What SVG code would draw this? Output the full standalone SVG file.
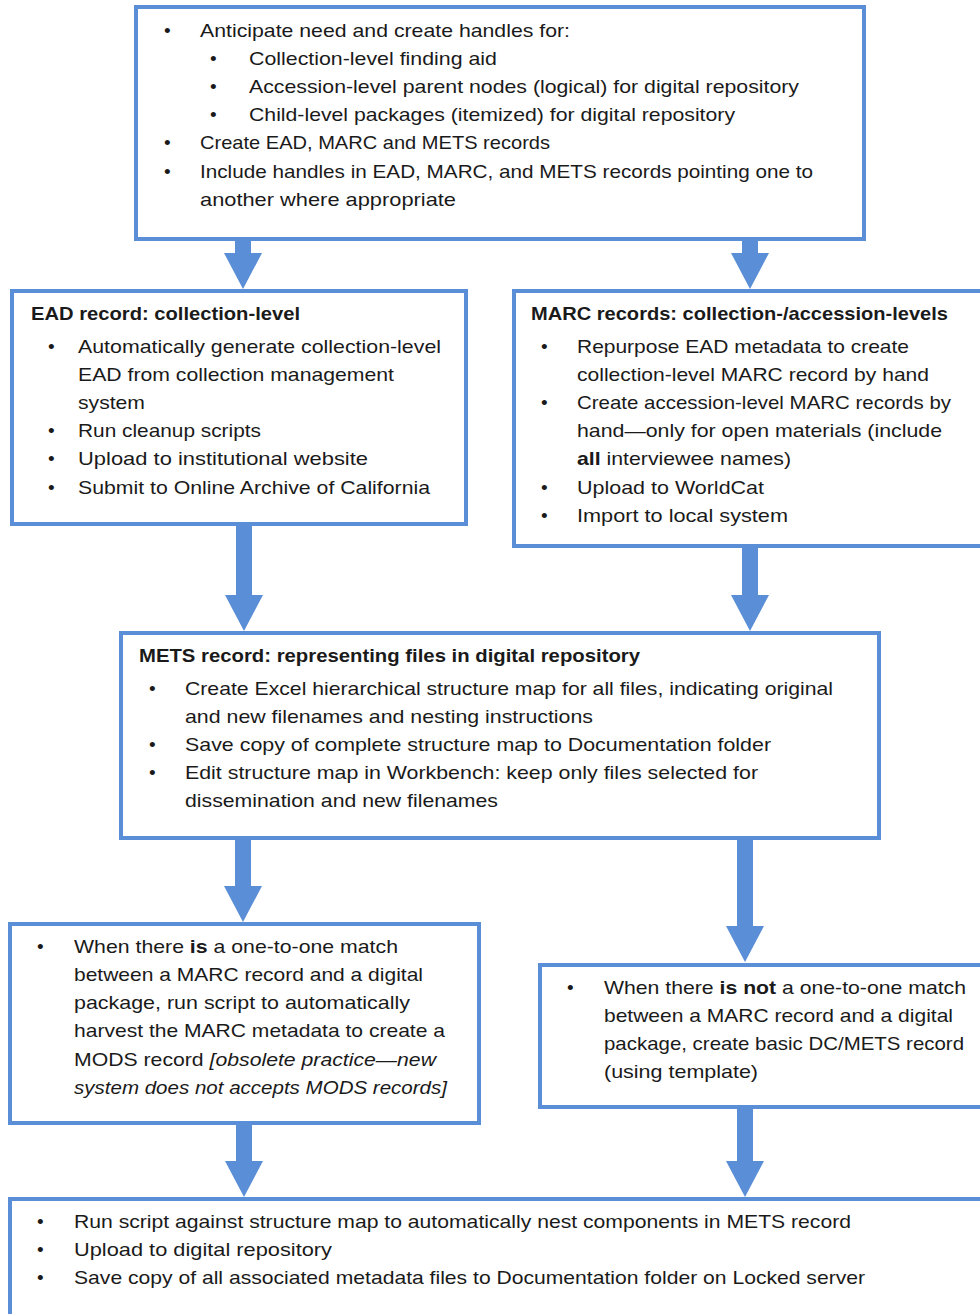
<svg xmlns="http://www.w3.org/2000/svg" width="980" height="1314" viewBox="0 0 980 1314">
<style>
.box{fill:#ffffff;stroke:#5a8ed6;stroke-width:4}
.arr{fill:#5a8ed6}
text{font-family:"Liberation Sans",Arial,sans-serif;font-size:19px;fill:#1a1a1a}
.b{font-weight:bold}
.i{font-style:italic}
</style>
<rect x="0" y="0" width="980" height="1314" fill="#ffffff"/>
<g id="connectors">
<polygon class="arr" points="235,239 251,239 251,253 262,253 243,289 224,253 235,253"/>
<polygon class="arr" points="742,239 758,239 758,253 769,253 750,289 731,253 742,253"/>
<polygon class="arr" points="236,525 252,525 252,595 263,595 244,631 225,595 236,595"/>
<polygon class="arr" points="742,546 758,546 758,595 769,595 750,631 731,595 742,595"/>
<polygon class="arr" points="235,838 251,838 251,886 262,886 243,922 224,886 235,886"/>
<polygon class="arr" points="737,838 753,838 753,926 764,926 745,962 726,926 737,926"/>
<polygon class="arr" points="236,1123 252,1123 252,1161 263,1161 244,1197 225,1161 236,1161"/>
<polygon class="arr" points="737,1107 753,1107 753,1161 764,1161 745,1197 726,1161 737,1161"/>
</g>
<g id="node-handles">
<rect class="box" x="136" y="7" width="728" height="232"/>
<text x="164" y="37">•</text><text x="200" y="37" textLength="370" lengthAdjust="spacingAndGlyphs">Anticipate need and create handles for:</text>
<text x="210" y="65">•</text><text x="249" y="65" textLength="248" lengthAdjust="spacingAndGlyphs">Collection-level finding aid</text>
<text x="210" y="93">•</text><text x="249" y="93" textLength="550" lengthAdjust="spacingAndGlyphs">Accession-level parent nodes (logical) for digital repository</text>
<text x="210" y="121">•</text><text x="249" y="121" textLength="486" lengthAdjust="spacingAndGlyphs">Child-level packages (itemized) for digital repository</text>
<text x="164" y="149">•</text><text x="200" y="149" textLength="350" lengthAdjust="spacingAndGlyphs">Create EAD, MARC and METS records</text>
<text x="164" y="178">•</text><text x="200" y="178" textLength="613" lengthAdjust="spacingAndGlyphs">Include handles in EAD, MARC, and METS records pointing one to</text>
<text x="200" y="206" textLength="256" lengthAdjust="spacingAndGlyphs">another where appropriate</text>
</g>
<g id="node-ead">
<rect class="box" x="12" y="291" width="454" height="233"/>
<text class="b" x="31" y="320" textLength="269" lengthAdjust="spacingAndGlyphs">EAD record: collection-level</text>
<text x="48" y="353">•</text><text x="78" y="353" textLength="363" lengthAdjust="spacingAndGlyphs">Automatically generate collection-level</text>
<text x="78" y="381" textLength="316" lengthAdjust="spacingAndGlyphs">EAD from collection management</text>
<text x="78" y="409" textLength="67" lengthAdjust="spacingAndGlyphs">system</text>
<text x="48" y="437">•</text><text x="78" y="437" textLength="183" lengthAdjust="spacingAndGlyphs">Run cleanup scripts</text>
<text x="48" y="465">•</text><text x="78" y="465" textLength="290" lengthAdjust="spacingAndGlyphs">Upload to institutional website</text>
<text x="48" y="494">•</text><text x="78" y="494" textLength="352" lengthAdjust="spacingAndGlyphs">Submit to Online Archive of California</text>
</g>
<g id="node-marc">
<rect class="box" x="514" y="291" width="472" height="255"/>
<text class="b" x="531" y="320" textLength="417" lengthAdjust="spacingAndGlyphs">MARC records: collection-/accession-levels</text>
<text x="541" y="353">•</text><text x="577" y="353" textLength="332" lengthAdjust="spacingAndGlyphs">Repurpose EAD metadata to create</text>
<text x="577" y="381" textLength="352" lengthAdjust="spacingAndGlyphs">collection-level  MARC record by hand</text>
<text x="541" y="409">•</text><text x="577" y="409" textLength="374" lengthAdjust="spacingAndGlyphs">Create accession-level MARC records by</text>
<text x="577" y="437" textLength="365" lengthAdjust="spacingAndGlyphs">hand—only for open materials (include</text>
<text x="577" y="465" textLength="214" lengthAdjust="spacingAndGlyphs"><tspan class="b">all</tspan> interviewee names)</text>
<text x="541" y="494">•</text><text x="577" y="494" textLength="187" lengthAdjust="spacingAndGlyphs">Upload to WorldCat</text>
<text x="541" y="522">•</text><text x="577" y="522" textLength="211" lengthAdjust="spacingAndGlyphs">Import to local system</text>
</g>
<g id="node-mets">
<rect class="box" x="121" y="633" width="758" height="205"/>
<text class="b" x="139" y="662" textLength="501" lengthAdjust="spacingAndGlyphs">METS record: representing files in digital repository</text>
<text x="149" y="695">•</text><text x="185" y="695" textLength="648" lengthAdjust="spacingAndGlyphs">Create Excel hierarchical structure map for all files, indicating original</text>
<text x="185" y="723" textLength="408" lengthAdjust="spacingAndGlyphs">and new filenames and nesting instructions</text>
<text x="149" y="751">•</text><text x="185" y="751" textLength="586" lengthAdjust="spacingAndGlyphs">Save copy of complete structure map to Documentation folder</text>
<text x="149" y="779">•</text><text x="185" y="779" textLength="573" lengthAdjust="spacingAndGlyphs">Edit structure map in Workbench: keep only files selected for</text>
<text x="185" y="807" textLength="313" lengthAdjust="spacingAndGlyphs">dissemination and new filenames</text>
</g>
<g id="node-match">
<rect class="box" x="10" y="924" width="469" height="199"/>
<text x="37" y="953">•</text><text x="74" y="953" textLength="324" lengthAdjust="spacingAndGlyphs">When there <tspan class="b">is</tspan> a one-to-one match</text>
<text x="74" y="981" textLength="349" lengthAdjust="spacingAndGlyphs">between a MARC record and a digital</text>
<text x="74" y="1009" textLength="336" lengthAdjust="spacingAndGlyphs">package, run script to automatically</text>
<text x="74" y="1037" textLength="371" lengthAdjust="spacingAndGlyphs">harvest the MARC metadata to create a</text>
<text x="74" y="1066" textLength="362" lengthAdjust="spacingAndGlyphs">MODS record <tspan class="i">[obsolete practice—new</tspan></text>
<text class="i" x="74" y="1094" textLength="373" lengthAdjust="spacingAndGlyphs">system does not accepts MODS records]</text>
</g>
<g id="node-nomatch">
<rect class="box" x="540" y="965" width="446" height="142"/>
<text x="567" y="994">•</text><text x="604" y="994" textLength="362" lengthAdjust="spacingAndGlyphs">When there <tspan class="b">is not</tspan> a one-to-one match</text>
<text x="604" y="1022" textLength="349" lengthAdjust="spacingAndGlyphs">between a MARC record and a digital</text>
<text x="604" y="1050" textLength="360" lengthAdjust="spacingAndGlyphs">package, create basic DC/METS record</text>
<text x="604" y="1078" textLength="154" lengthAdjust="spacingAndGlyphs">(using template)</text>
</g>
<g id="node-final">
<rect class="box" x="10" y="1199" width="976" height="130"/>
<text x="37" y="1228">•</text><text x="74" y="1228" textLength="777" lengthAdjust="spacingAndGlyphs">Run script against structure map to automatically nest components in METS record</text>
<text x="37" y="1256">•</text><text x="74" y="1256" textLength="258" lengthAdjust="spacingAndGlyphs">Upload to digital repository</text>
<text x="37" y="1284">•</text><text x="74" y="1284" textLength="791" lengthAdjust="spacingAndGlyphs">Save copy of all associated metadata files to Documentation folder on Locked server</text>
</g>
</svg>
